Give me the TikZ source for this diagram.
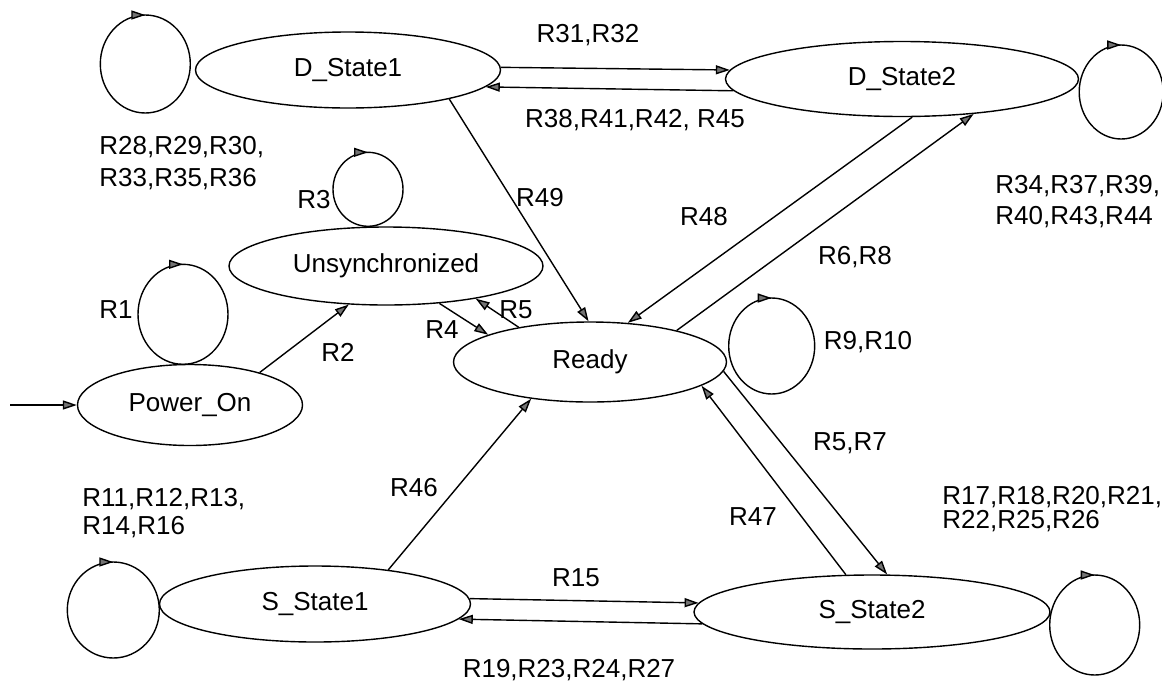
\documentclass[tikz,border=0pt]{standalone}
\usepackage{fontspec}
\setmainfont{Liberation Sans}
\usetikzlibrary{shapes.geometric,arrows.meta,decorations.markings}

\begin{document}
\begin{tikzpicture}[x=0.5pt, y=-0.5pt,
  state/.style={ellipse, draw, line width=0.7pt, inner sep=0pt, font=\fontsize{13}{15}\selectfont},
  lbl/.style={inner sep=0pt, align=left, font=\fontsize{13}{15}\selectfont},
  arrow/.style={-{Triangle[length=7pt,width=4.5pt,fill=black!55]}, line width=0.7pt},
  selfloop/.style={line width=0.7pt, postaction={decorate},
    decoration={markings, mark=at position 0.75 with {\arrow{Triangle[length=7pt,width=4.5pt,fill=black!55]}}}}
]
  \useasboundingbox (0,0) rectangle (1162,681);
  \node[state, minimum width=152.5pt, minimum height=38pt] (dstate1) at (348,70) {D\_State1};
  \node[state, minimum width=176.5pt, minimum height=37.5pt] (dstate2) at (902,79) {D\_State2};
  \node[state, minimum width=157pt, minimum height=39pt] (unsync) at (386,266) {Unsynchronized};
  \node[state, minimum width=136.5pt, minimum height=40pt] (ready) at (590,362) {Ready};
  \node[state, minimum width=112.5pt, minimum height=40.5pt] (poweron) at (190,405) {Power\_On};
  \node[state, minimum width=155.5pt, minimum height=38pt] (sstate1) at (315,604) {S\_State1};
  \node[state, minimum width=178pt, minimum height=37pt] (sstate2) at (872,612) {S\_State2};
  \coordinate (entry) at (10,405);

  \draw[selfloop] (dstate1.west) ++(-49.5,-6) ellipse (45 and 49);
  \draw[selfloop] (unsync.north) ++(-18,-37) ellipse (35 and 37);
  \draw[selfloop] (poweron.north) ++(-7,-49.5) ellipse (45 and 50);
  \draw[selfloop] (dstate2.east) ++(42,13) ellipse (42 and 47);
  \draw[selfloop] (ready.east) ++(44.5,-16) ellipse (43 and 48);
  \draw[selfloop] (sstate1.west) ++(-45.5,6) ellipse (46 and 48);
  \draw[selfloop] (sstate2.east) ++(44,13) ellipse (45 and 50);

  \draw[arrow] (entry) -- (poweron.west);
  \draw[arrow] (poweron.25) -- (unsync.226);
  \draw[arrow] (unsync.-35) -- (ready.165);
  \draw[arrow] (ready.154) -- (unsync.-20);
  \draw[arrow] (dstate1.-16) -- (ready.92);
  \draw[arrow] (dstate2.-75) -- (ready.46);
  \draw[arrow] (ready.20) -- (dstate2.-26);
  \draw[arrow] (dstate1.1) -- (dstate2.177);
  \draw[arrow] (dstate2.-176) -- (dstate1.-7);
  \draw[arrow] (sstate1.2) -- (sstate2.177);
  \draw[arrow] (sstate2.-176) -- (sstate1.-6);
  \draw[arrow] (sstate1.25) -- (ready.212);
  \draw[arrow] (sstate2.125) -- (ready.-12);
  \draw[arrow] (ready.-4) -- (sstate2.68);

  \node[lbl] (r3132) at (588,35) {R31,R32};
  \node[lbl] (r38) at (635,120) {R38,R41,R42, R45};
  \node[lbl, anchor=west] (r28) at (99,163) {R28,R29,R30,\\[1pt]R33,R35,R36};
  \node[lbl, anchor=west] (r34) at (995,202) {R34,R37,R39,\\[0.5pt]R40,R43,R44};
  \node[lbl] (r3) at (314,200) {R3};
  \node[lbl] (r49) at (540,198) {R49};
  \node[lbl] (r48) at (704,217) {R48};
  \node[lbl] (r68) at (855,257) {R6,R8};
  \node[lbl] (r1) at (116,310) {R1};
  \node[lbl] (r2) at (338,352) {R2};
  \node[lbl] (r5) at (516,310) {R5};
  \node[lbl] (r4) at (442,330) {R4};
  \node[lbl] (r910) at (868,342) {R9,R10};
  \node[lbl] (r57) at (850,443) {R5,R7};
  \node[lbl] (r46) at (414,488) {R46};
  \node[lbl] (r47) at (753,517) {R47};
  \node[lbl, anchor=west] (r11) at (82,513) {R11,R12,R13,\\[-1pt]R14,R16};
  \node[lbl, anchor=west] (r17) at (942,509) {R17,R18,R20,R21,\\[-3pt]R22,R25,R26};
  \node[lbl] (r15) at (576,578) {R15};
  \node[lbl] (r19) at (569,670) {R19,R23,R24,R27};
\end{tikzpicture}
\end{document}
